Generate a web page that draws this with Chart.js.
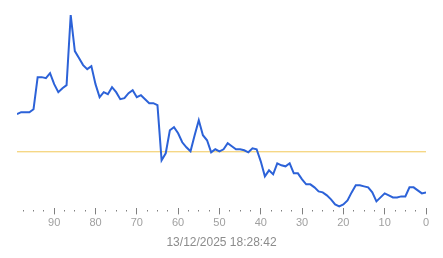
<!DOCTYPE html>
<html>
<head>
<meta charset="utf-8">
<script src="https://cdn.jsdelivr.net/npm/chart.js@4.4.1/dist/chart.umd.min.js"></script>
<style>
  html, body { margin: 0; padding: 0; background: #fff; }
  #wrap { width: 443px; height: 258px; }
</style>
</head>
<body>
<div id="wrap"><canvas id="grafico"></canvas></div>
<script>
// minutes ago (x axis, reversed: 99 on the left, 0 on the right)
var minutos = [99, 98, 97, 96, 95, 94, 93, 92, 91, 90,
               89, 88, 87, 86, 85, 84, 83, 82, 81, 80,
               79, 78, 77, 76, 75, 74, 73, 72, 71, 70,
               69, 68, 67, 66, 65, 64, 63, 62, 61, 60,
               59, 58, 57, 56, 55, 54, 53, 52, 51, 50,
               49, 48, 47, 46, 45, 44, 43, 42, 41, 40,
               39, 38, 37, 36, 35, 34, 33, 32, 31, 30,
               29, 28, 27, 26, 25, 24, 23, 22, 21, 20,
               19, 18, 17, 16, 15, 14, 13, 12, 11, 10,
               9, 8, 7, 6, 5, 4, 3, 2, 1, 0];

var nivel = [98, 100, 100, 100, 103, 135, 135, 134, 139, 128,
             120, 124, 127, 197, 161, 154, 147, 143, 146, 128,
             115, 120, 118, 125, 120, 113, 114, 119, 122, 115,
             117, 113, 109, 109, 107, 52, 59, 82, 85, 79,
             70, 65, 61, 77, 92, 77, 72, 60, 63, 61,
             63, 69, 66, 63, 63, 62, 60, 64, 63, 51,
             36, 42, 38, 49, 47, 46, 49, 39, 39, 33,
             28, 28, 25, 21, 20, 17, 13, 8, 6, 8,
             12, 20, 27, 27, 26, 25, 20, 11, 15, 19,
             17, 15, 15, 16, 16, 25, 25, 22, 19, 20];

// reference level (horizontal line)
var referencia = 60.5;

var titulo = "13/12/2025 18:28:42";

var pontos = minutos.map(function (m, i) { return { x: m, y: nivel[i] }; });
var linhaRef = [{ x: minutos[0], y: referencia }, { x: minutos[minutos.length - 1], y: referencia }];

new Chart(document.getElementById("grafico"), {
    type: 'line',
    data: {
        datasets: [{
            data: linhaRef,
            borderColor: "#f2c857",
            borderWidth: 1,
            pointRadius: 0,
            order: 2
        }, {
            data: pontos,
            borderColor: "#2c62d8",
            borderWidth: 2,
            pointRadius: 0,
            tension: 0,
            order: 1
        }]
    },
    options: {
        responsive: true,
        maintainAspectRatio: false,
        animation: false,
        layout: {
            padding: { left: 17, right: 17, top: 5, bottom: 4 }
        },
        plugins: {
            legend: { display: false },
            tooltip: { enabled: false }
        },
        scales: {
            x: {
                type: 'linear',
                reverse: true,
                min: 0,
                max: 99,
                border: { display: false },
                grid: {
                    drawOnChartArea: false,
                    tickLength: 6,
                    tickColor: "#808080",
                    tickWidth: 1,
                    tickBorderDash: function (ctx) {
                        return ctx.tick && ctx.tick.value % 10 === 0 ? [] : [0, 2, 1.5, 30];
                    }
                },
                ticks: {
                    stepSize: 2.5,
                    includeBounds: false,
                    autoSkip: false,
                    maxRotation: 0,
                    padding: 2,
                    color: "#a0a0a0",
                    font: { family: "'Liberation Sans', Arial, sans-serif", size: 11 },
                    callback: function (v) { return v % 10 === 0 ? String(v) : ''; }
                },
                title: {
                    display: true,
                    text: titulo,
                    color: "#8c8c8c",
                    font: { family: "'Liberation Sans', Arial, sans-serif", size: 12 },
                    padding: { top: 4, bottom: 4 }
                }
            },
            y: {
                display: false,
                min: 4,
                max: 207
            }
        }
    }
});
</script>
</body>
</html>
